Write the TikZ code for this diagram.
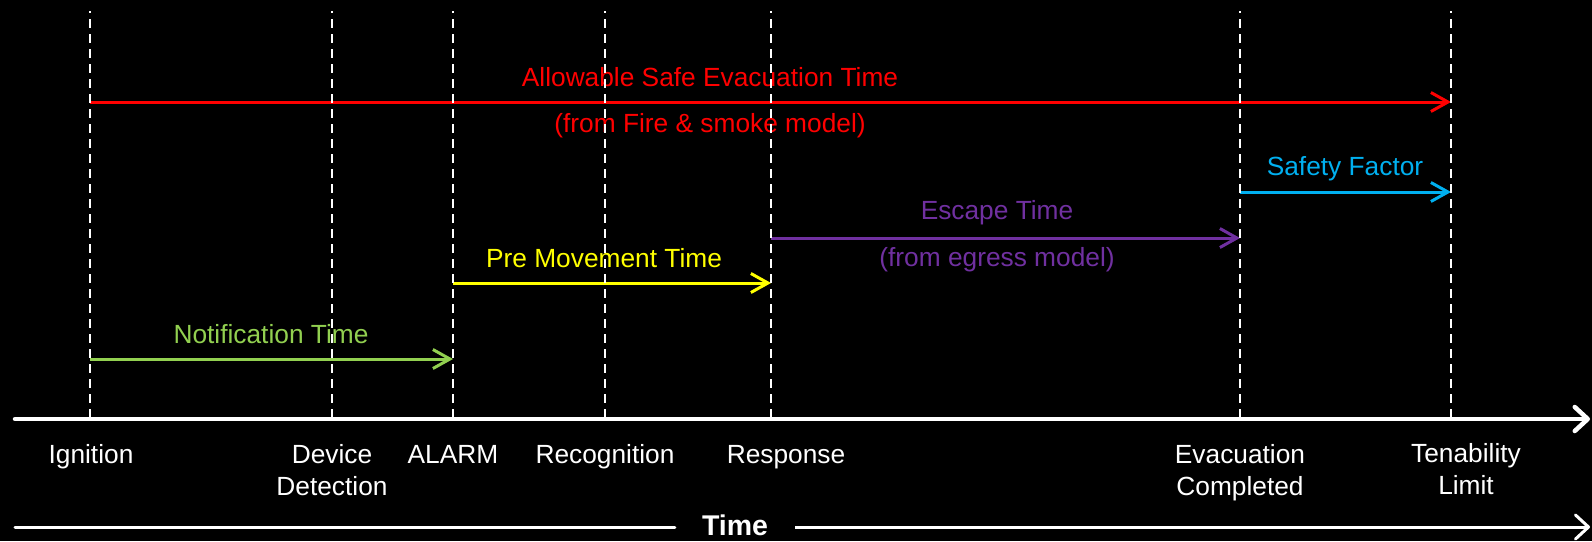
\documentclass[tikz,border=0pt]{standalone}
\usepackage{fontspec}
\setmainfont{Liberation Sans}
\usetikzlibrary{arrows.meta}

\definecolor{asetred}{RGB}{255,0,0}
\definecolor{sfblue}{RGB}{0,176,240}
\definecolor{escpurple}{RGB}{112,48,160}
\definecolor{preyellow}{RGB}{255,255,0}
\definecolor{notegreen}{RGB}{146,208,80}

\begin{document}
\begin{tikzpicture}[x=1pt,y=-1pt,
  lbl/.style={font=\fontsize{26.3}{32}\selectfont, inner sep=0pt, anchor=base},
  milelbl/.style={lbl, text=white, align=center},
  span/.style={line width=3pt, -{Straight Barb[length=17pt,width=19pt]}},
  marker/.style={white, line width=2pt, dash pattern=on 9pt off 6pt, dash phase=7pt},
  axis/.style={white, line width=4.5pt, line cap=round,
    -{Straight Barb[length=13pt,width=24pt,round]}},
  timeaxis/.style={white, line width=3pt}
]
% background and page frame
\fill[black] (0,0) rectangle (1592,541);
\useasboundingbox (0,0) rectangle (1592,541);

% milestones on the time axis
\coordinate (ign)   at (90,419);
\coordinate (det)   at (332,419);
\coordinate (alarm) at (453,419);
\coordinate (recog) at (605,419);
\coordinate (resp)  at (771,419);
\coordinate (evac)  at (1240,419);
\coordinate (tenab) at (1451,419);
\coordinate (top)   at (0,11);

% heights of the interval arrows
\coordinate (row-ase)  at (0,102);
\coordinate (row-sf)   at (0,192);
\coordinate (row-esc)  at (0,238);
\coordinate (row-pre)  at (0,283);
\coordinate (row-note) at (0,359);

% interval arrows
\draw[span, asetred]   (ign |- row-ase)  -- (tenab |- row-ase);
\draw[span, sfblue]    (evac |- row-sf)  -- (tenab |- row-sf);
\draw[span, escpurple] (resp |- row-esc) -- (evac |- row-esc);
\draw[span, preyellow] (alarm |- row-pre) -- (resp |- row-pre);
\draw[span, notegreen] (ign |- row-note) -- (alarm |- row-note);

% interval labels
\node[lbl, text=asetred]   (ase)   at (710,86)  {Allowable Safe Evacuation Time};
\node[lbl, text=asetred]   (ase2)  at (710,132) {(from Fire \& smoke model)};
\node[lbl, text=sfblue]    (sf)    at (1345,175) {Safety Factor};
\node[lbl, text=escpurple] (esc)   at (997,219) {Escape Time};
\node[lbl, text=escpurple] (esc2)  at (997,266) {(from egress model)};
\node[lbl, text=preyellow] (pre)   at (604,267) {Pre Movement Time};
\node[lbl, text=notegreen] (note)  at (271,343) {Notification Time};

% dashed milestone markers
\foreach \m in {ign,det,alarm,recog,resp,evac,tenab}
  \draw[marker] (\m |- top) -- (\m);

% main time axis
\coordinate (axis-start) at (15,419);
\coordinate (axis-end)   at (1590,419);
\draw[axis] (axis-start) -- (axis-end);

% milestone labels (base anchor sits on the last line)
\node[milelbl] (l-ign)   at (91,463)   {Ignition};
\node[milelbl] (l-det)   at (332,495)  {Device\\Detection};
\node[milelbl] (l-alarm) at (453,463)  {ALARM};
\node[milelbl] (l-recog) at (605,463)  {Recognition};
\node[milelbl] (l-resp)  at (786,463)  {Response};
\node[milelbl] (l-evac)  at (1240,495) {Evacuation\\Completed};
\node[milelbl] (l-tenab) at (1466,494) {Tenability\\Limit};

% "Time" caption line
\node[font=\bfseries\fontsize{28.5}{32}\selectfont, text=white, anchor=base,
      inner xsep=27pt, inner ysep=0pt] (time) at (735,535) {Time};
\coordinate (tl-start) at (15,527);
\coordinate (tl-end)   at (1590,527);
\draw[timeaxis, line cap=round] (tl-start) -- (tl-start -| time.west);
\draw[timeaxis, -{Straight Barb[length=13pt,width=24pt,round]}]
  (time.east |- tl-end) -- (tl-end);
\end{tikzpicture}
\end{document}
